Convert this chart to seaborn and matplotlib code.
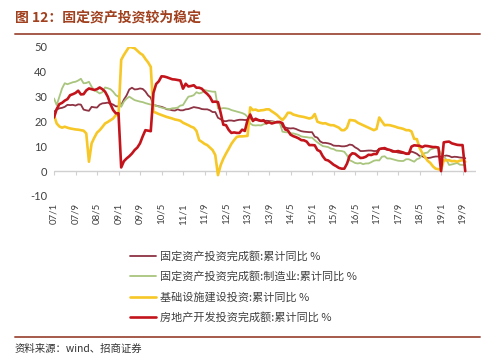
import numpy as np
import pandas as pd
import matplotlib
matplotlib.use("Agg")
import matplotlib.pyplot as plt
from matplotlib.lines import Line2D
import seaborn as sns

# ---------------- data (monthly, 2007/1 .. 2019/10) ----------------
months = pd.period_range("2007-01", "2019-10", freq="M")
month_labels = [f"{p.year % 100:02d}/{p.month}" for p in months]

fai_total = [
    23.9, 24.8, 25.3, 25.5, 25.9, 26.7, 26.6, 26.7, 26.4, 26.9, 26.8, 24.8,  # 2007
    24.5, 24.3, 25.9, 25.7, 25.6, 26.8, 27.3, 27.4, 27.6, 27.2, 26.8, 26.1,  # 2008
    26.1, 26.5, 28.8, 30.5, 32.9, 33.6, 32.9, 33.0, 33.3, 33.1, 32.1, 30.5,  # 2009
    29.6, 26.6, 26.4, 26.1, 25.9, 25.5, 24.9, 24.8, 24.5, 24.4, 24.9, 24.5,  # 2010
    24.5, 24.9, 25.0, 25.4, 25.8, 25.6, 25.4, 25.0, 24.9, 24.9, 24.5, 23.8,  # 2011
    23.8, 21.5, 20.9, 20.2, 20.1, 20.4, 20.4, 20.2, 20.5, 20.7, 20.7, 20.6,  # 2012
    20.6, 21.2, 20.9, 20.6, 20.4, 20.1, 20.1, 20.3, 20.2, 20.1, 19.9, 19.6,  # 2013
    19.6, 17.9, 17.6, 17.3, 17.2, 17.3, 17.0, 16.5, 16.1, 15.9, 15.8, 15.7,  # 2014
    15.7, 13.9, 13.5, 12.0, 11.4, 11.4, 11.2, 10.9, 10.3, 10.2, 10.2, 10.0,  # 2015
    10.0, 10.2, 10.7, 10.5, 9.6, 9.0, 8.1, 8.1, 8.2, 8.3, 8.3, 8.1,          # 2016
    8.1, 8.9, 9.2, 8.9, 8.6, 8.6, 8.3, 7.8, 7.5, 7.3, 7.2, 7.2,              # 2017
    7.2, 7.9, 7.5, 7.0, 6.1, 6.0, 5.5, 5.3, 5.4, 5.7, 5.9, 5.9,              # 2018
    5.9, 6.1, 6.3, 6.1, 5.6, 5.8, 5.7, 5.5, 5.4, 5.2,                        # 2019
]

manufacturing = [
    29.3, 26.6, 30.0, 33.3, 35.4, 35.0, 35.4, 35.8, 36.0, 36.5, 37.2, 35.4,  # 2007
    35.5, 36.0, 34.0, 32.5, 32.0, 31.3, 31.8, 33.7, 33.4, 33.0, 32.0, 30.6,  # 2008
    30.0, 25.9, 28.0, 29.2, 30.0, 29.3, 28.6, 28.3, 28.0, 27.8, 27.4, 27.1,  # 2009
    26.8, 26.6, 26.3, 26.0, 25.6, 25.3, 25.1, 25.0, 25.3, 25.4, 25.6, 26.4,  # 2010
    26.6, 28.4, 30.0, 30.2, 30.6, 31.8, 31.3, 31.6, 32.7, 32.4, 32.2, 32.0,  # 2011
    32.0, 25.3, 25.2, 25.4, 25.3, 25.1, 24.6, 24.3, 24.0, 23.7, 23.4, 22.9,  # 2012
    21.9, 19.2, 18.5, 18.4, 18.5, 18.4, 18.9, 19.2, 19.9, 19.9, 19.7, 19.9,  # 2013
    19.5, 15.9, 15.7, 15.6, 15.3, 15.2, 14.9, 14.6, 14.0, 13.8, 13.7, 13.5,  # 2014
    13.5, 12.5, 11.6, 10.8, 10.1, 9.9, 9.7, 9.1, 8.9, 8.3, 8.2, 8.1,        # 2015
    7.8, 6.4, 4.4, 3.9, 3.3, 3.1, 3.3, 2.8, 3.1, 3.1, 3.6, 4.2,              # 2016
    4.4, 4.3, 5.8, 6.0, 5.1, 5.1, 4.8, 4.5, 4.2, 4.1, 4.1, 4.8,              # 2017
    4.8, 4.3, 3.8, 4.8, 5.2, 6.8, 7.3, 7.5, 8.7, 9.1, 9.5, 9.5,              # 2018
    6.9, 5.9, 4.6, 2.5, 2.7, 3.0, 3.3, 2.6, 2.5, 2.4,                        # 2019
]

infrastructure = [
    22.5, 19.2, 18.0, 17.5, 17.9, 17.5, 17.2, 17.0, 16.8, 16.7, 16.5, 16.3,  # 2007
    15.2, 3.8, 11.2, 13.5, 15.5, 16.5, 17.8, 19.2, 19.8, 20.5, 21.2, 22.6,   # 2008
    22.6, 44.8, 46.8, 48.5, 50.1, 49.8, 49.5, 48.5, 47.5, 46.8, 45.2, 43.8,  # 2009
    42.0, 23.9, 23.5, 23.0, 22.6, 22.2, 21.8, 21.5, 21.2, 20.8, 20.6, 20.3,  # 2010
    19.5, 19.0, 18.5, 17.9, 17.5, 16.2, 12.5, 11.8, 11.0, 10.5, 9.5, 8.5,    # 2011
    6.5, -1.6, 2.4, 5.0, 7.1, 9.0, 11.0, 12.5, 13.8, 14.0, 14.0, 14.1,       # 2012
    14.2, 25.7, 24.6, 24.8, 24.3, 24.5, 24.6, 24.9, 24.9, 24.1, 23.4, 22.6,  # 2013
    21.5, 20.6, 21.8, 23.5, 23.5, 22.8, 22.5, 22.2, 22.0, 21.8, 21.5, 21.2,  # 2014
    21.5, 23.0, 19.9, 19.5, 19.2, 19.3, 18.8, 18.5, 18.5, 18.0, 17.5, 16.5,  # 2015
    16.5, 17.5, 20.6, 20.5, 20.3, 19.5, 19.0, 18.5, 18.0, 17.5, 17.0, 16.5,  # 2016
    17.0, 21.6, 20.0, 18.5, 18.6, 18.5, 18.2, 17.9, 17.5, 17.3, 17.0, 16.5,  # 2017
    16.5, 16.0, 13.0, 12.9, 9.4, 7.3, 5.7, 4.2, 3.3, 1.9, 1.0, 0.8,          # 2018
    0.5, 4.3, 4.4, 4.4, 4.0, 4.1, 3.8, 4.2, 4.5, 3.8,                        # 2019
]

real_estate = [
    21.6, 25.0, 27.0, 27.5, 28.4, 29.0, 30.6, 31.0, 31.5, 32.4, 30.9, 31.0,  # 2007
    32.5, 33.3, 33.0, 32.7, 33.0, 33.7, 33.0, 32.0, 30.0, 27.0, 24.6, 23.3,  # 2008
    23.3, 1.5, 4.0, 5.1, 6.0, 7.1, 8.5, 9.5, 11.2, 14.0, 16.5, 16.3,         # 2009
    16.1, 31.5, 35.1, 36.2, 38.2, 38.1, 37.8, 37.4, 37.0, 36.9, 36.7, 36.5,  # 2010
    33.2, 35.2, 34.1, 34.3, 34.6, 33.6, 33.6, 33.2, 32.0, 31.1, 29.9, 27.9,  # 2011
    28.0, 27.8, 23.5, 18.7, 18.5, 16.6, 15.4, 15.6, 15.4, 15.4, 16.7, 16.2,  # 2012
    20.6, 22.8, 20.2, 21.1, 20.6, 20.3, 20.5, 19.3, 19.7, 19.2, 19.5, 19.8,  # 2013
    19.8, 19.3, 16.8, 16.4, 14.7, 14.1, 13.7, 13.2, 12.5, 12.4, 11.9, 10.5,  # 2014
    10.5, 10.4, 8.5, 8.0, 6.0, 4.6, 4.3, 3.5, 2.6, 2.0, 1.3, 1.0,            # 2015
    1.0, 3.0, 6.2, 7.2, 7.0, 6.1, 5.3, 5.4, 5.8, 6.6, 6.5, 6.9,              # 2016
    6.9, 8.9, 9.1, 9.3, 8.8, 8.5, 7.9, 7.9, 8.1, 7.8, 7.5, 7.0,              # 2017
    7.0, 9.9, 10.4, 10.3, 10.2, 9.7, 10.2, 10.1, 9.9, 9.7, 9.7, 9.5,         # 2018
    0.0, 11.6, 11.8, 11.9, 11.2, 10.9, 10.6, 10.5, 10.5, 0.0,                # 2019
]

series_names = [
    "固定资产投资完成额:累计同比 %",
    "固定资产投资完成额:制造业:累计同比 %",
    "基础设施建设投资:累计同比 %",
    "房地产开发投资完成额:累计同比 %",
]
series_values = [fai_total, manufacturing, infrastructure, real_estate]
series_colors = ["#8E3343", "#A9C57E", "#F6C726", "#C3141C"]
series_widths = [1.3, 1.3, 1.9, 1.9]

y_ticks = [-10, 0, 10, 20, 30, 40, 50]
tick_step = 8

title_text = "图 12：固定资产投资较为稳定"
source_text = "资料来源：wind、招商证券"

# ---------------- build long table ----------------
idx = np.arange(len(months))
frames = []
for name, vals in zip(series_names, series_values):
    frames.append(pd.DataFrame({"month": idx, "value": vals, "series": name}))
df = pd.concat(frames, ignore_index=True)

# ---------------- plotting ----------------
sns.set_style("white")
plt.rcParams["font.family"] = ["Noto Sans CJK SC", "DejaVu Sans"]

fig = plt.figure(figsize=(5.0, 3.62), dpi=100)
ax = fig.add_axes([0.108, 0.4586, 0.844, 0.4116])

for name, col, lw in zip(series_names, series_colors, series_widths):
    sns.lineplot(data=df[df["series"] == name], x="month", y="value",
                 color=col, linewidth=lw, ax=ax, label=name, legend=False)

ax.set_xlim(0, 157)
ax.set_ylim(-10, 50)
ax.set_xlabel("")
ax.set_ylabel("")

for s in ["top", "right", "left", "bottom"]:
    ax.spines[s].set_visible(False)

xt = idx[::tick_step]
ax.set_xticks(xt)
ax.set_xticklabels([month_labels[i] for i in xt], rotation=90,
                   fontsize=7, color="#404040", family=["Lato", "DejaVu Sans"])
ax.tick_params(axis="x", length=0, pad=5)
ax.set_yticks(y_ticks)
ax.set_yticklabels([str(v) for v in y_ticks], fontsize=8, color="#404040",
                   family=["Lato", "DejaVu Sans"])
ax.tick_params(axis="y", length=0, pad=5)

# zero line with tick marks
ax.axhline(0, color="#D0D0D0", lw=1.0, zorder=0)
sec = ax.secondary_xaxis(10 / 60)
sec.set_xticks(xt)
sec.set_xticklabels([])
sec.tick_params(axis="x", length=3, color="#D0D0D0", direction="out")
sec.spines["bottom"].set_visible(False)

# legend
handles = [Line2D([0], [0], color=c, lw=w) for c, w in zip(series_colors, series_widths)]
fig.legend(handles, series_names, loc="upper left",
           bbox_to_anchor=(130 / 500, 1 - 251 / 362), frameon=False,
           borderpad=0, borderaxespad=0, fontsize=8, handlelength=2.35,
           handletextpad=0.35, labelspacing=0.86, labelcolor="#404040")

# title, rules and source
fig.text(15 / 500, 1 - 18 / 362, title_text, fontsize=10, fontweight="bold",
         color="#A0401E", va="center", ha="left")
fig.add_artist(Line2D([15 / 500, 480 / 500], [1 - 33.5 / 362] * 2,
                      transform=fig.transFigure, color="#A65A4A", lw=1.4))
fig.add_artist(Line2D([15 / 500, 480 / 500], [1 - 337 / 362] * 2,
                      transform=fig.transFigure, color="#A65A4A", lw=1.4))
fig.text(15 / 500, 1 - 349 / 362, source_text, fontsize=7.5, color="#333333",
         va="center", ha="left")

fig.savefig("out.png", dpi=100)
